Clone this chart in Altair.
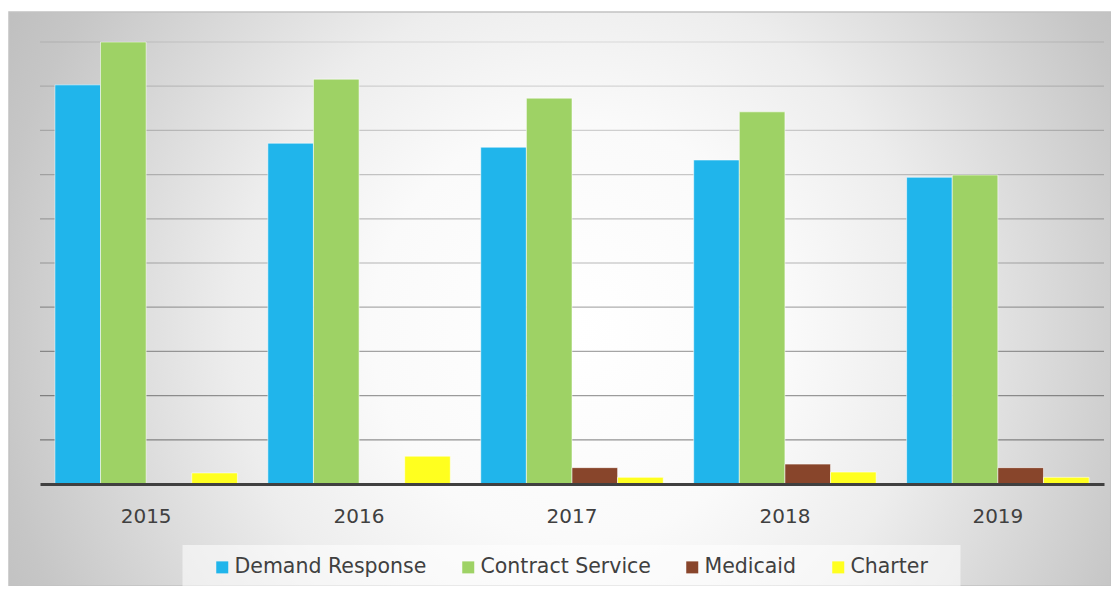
import altair as alt
import pandas as pd

years = ["2015", "2016", "2017", "2018", "2019"]
series = ["Demand Response", "Contract Service", "Medicaid", "Charter"]
demand_response = [90.3, 77.1, 76.2, 73.3, 69.4]
contract_service = [100.0, 91.6, 87.3, 84.2, 69.9]
medicaid = [0.0, 0.0, 3.7, 4.5, 3.7]
charter = [2.5, 6.3, 1.5, 2.7, 1.5]
grid_values = [10, 20, 30, 40, 50, 60, 70, 80, 90, 100]
colors = ["#20B5EB", "#9ED265", "#88452B", "#FFFF1F"]

rows = []
for s, vals in zip(series, [demand_response, contract_service, medicaid, charter]):
    for yr, v in zip(years, vals):
        rows.append({"year": yr, "series": s, "value": v})
df = pd.DataFrame(rows)

W, H = 1064, 442
FONT = "DejaVu Sans"

yscale = alt.Scale(domain=[0, 100], nice=False, zero=True)

bg = alt.Chart(pd.DataFrame({"a": [0]})).mark_rect(
    fill=alt.RadialGradient(
        gradient="radial",
        x1=0.518, y1=0.528, r1=0,
        x2=0.518, y2=0.528, r2=0.63,
        stops=[
            alt.GradientStop(color="#FFFFFF", offset=0),
            alt.GradientStop(color="#FAFAFA", offset=0.3),
            alt.GradientStop(color="#EDEDED", offset=0.5),
            alt.GradientStop(color="#C6C6C6", offset=0.85),
            alt.GradientStop(color="#BBBBBB", offset=1),
        ],
    ),
    stroke="#C2C2C2",
    strokeWidth=1.5,
).encode(
    x=alt.value(-31), x2=alt.value(W + 7),
    y=alt.value(-30), y2=alt.value(H + 102),
)

legend_box = alt.Chart(pd.DataFrame({"a": [0]})).mark_rect(
    fill="white", opacity=0.55
).encode(
    x=alt.value(142.5), x2=alt.value(920.5),
    y=alt.value(503), y2=alt.value(547),
)

grid = alt.Chart(pd.DataFrame({"v": grid_values})).mark_rule(
    color="black", strokeWidth=1.2
).encode(
    y=alt.Y("v:Q", scale=yscale, axis=None),
    x=alt.value(0), x2=alt.value(W),
    opacity=alt.Opacity("v:Q", scale=alt.Scale(domain=[10, 100], range=[0.42, 0.1]), legend=None),
)

bars = alt.Chart(df).mark_bar(
    stroke="white", strokeOpacity=0.55, strokeWidth=1
).encode(
    x=alt.X(
        "year:N",
        sort=years,
        scale=alt.Scale(paddingInner=0.143, paddingOuter=0.07),
        axis=alt.Axis(
            title=None, labelAngle=0, ticks=False, grid=False,
            labelFont=FONT, labelFontSize=20, labelColor="#404040",
            labelPadding=22, domainColor="#404040", domainWidth=3, zindex=1,
        ),
    ),
    xOffset=alt.XOffset("series:N", sort=series, scale=alt.Scale(paddingInner=0, paddingOuter=0)),
    y=alt.Y("value:Q", scale=yscale, axis=None),
    color=alt.Color(
        "series:N",
        sort=series,
        scale=alt.Scale(domain=series, range=colors),
        legend=alt.Legend(
            title=None, orient="none", legendX=172, legendY=515,
            direction="horizontal", columns=4, columnPadding=31,
            symbolType="square", symbolSize=144, symbolStrokeWidth=0,
            symbolOpacity=1, labelOffset=2, padding=0, labelLimit=0,
            labelFont=FONT, labelFontSize=20.5, labelColor="#404040",
        ),
    ),
)

chart = alt.layer(bg, legend_box, grid, bars).properties(
    width=W, height=H,
    autosize=alt.AutoSizeParams(type="none"),
    padding={"left": 32, "top": 34, "right": 7, "bottom": 102},
    background="white",
).configure_view(stroke=None)

chart.save("out.html", embed_options={"renderer": "svg", "actions": False})
